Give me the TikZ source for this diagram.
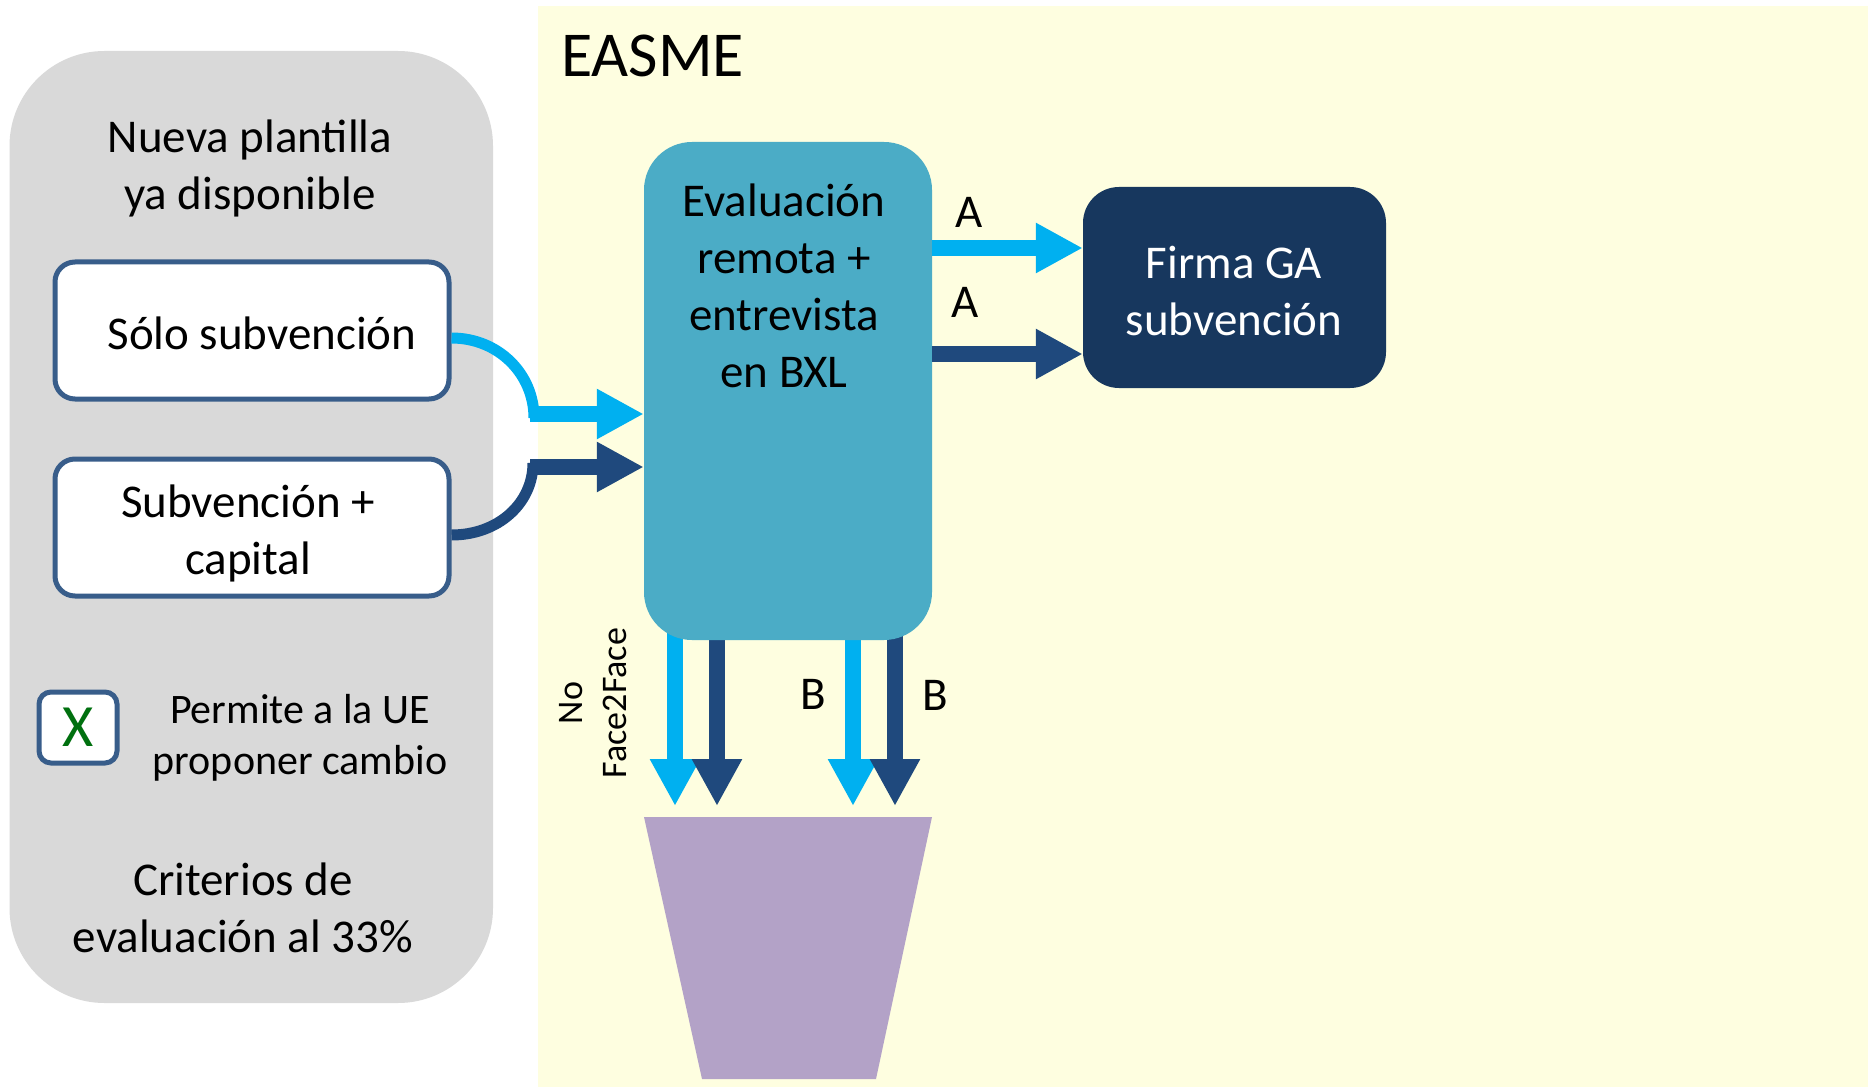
\documentclass[tikz,border=0pt]{standalone}
\usepackage{fontspec}
\setmainfont{Carlito}
\usetikzlibrary{arrows.meta}
\definecolor{grayp}{HTML}{D9D9D9}
\definecolor{yel}{HTML}{FEFEE0}
\definecolor{cyanbox}{HTML}{4BACC6}
\definecolor{navy}{HTML}{17375E}
\definecolor{lblue}{HTML}{00B0F0}
\definecolor{dblue}{HTML}{1F497D}
\definecolor{bord}{HTML}{385D8A}
\definecolor{lilac}{HTML}{B3A2C7}
\definecolor{xgreen}{HTML}{00700F}
\begin{document}
\begin{tikzpicture}[x=1pt,y=-1pt,
  txt/.style={font=\fontsize{47}{57}\selectfont, align=center, inner sep=0pt},
  smalltxt/.style={font=\fontsize{42}{51}\selectfont, align=center, inner sep=0pt},
  whitebox/.style={draw=bord, line width=5pt, fill=white, rounded corners=20pt, minimum width=394pt, minimum height=137pt, inner sep=0pt},
  arcL/.style={draw=lblue, line width=11pt},
  arcD/.style={draw=dblue, line width=11pt},
  arrL/.style={draw=lblue, line width=16pt, -{Triangle[length=47pt,width=47pt]}},
  arrD/.style={draw=dblue, line width=16pt, -{Triangle[length=47pt,width=47pt]}},
]
\useasboundingbox (0,0) rectangle (1868,1091);
% backgrounds
\fill[white] (0,0) rectangle (1868,1091);
\fill[yel] (538,6) rectangle (1868,1087);
\fill[grayp, rounded corners=95pt] (9.5,51) rectangle (493,1003);
\node[anchor=west, font=\fontsize{64}{77}\selectfont, inner sep=0pt] (easme) at (561,56) {EASME};

% left panel
\node[txt] (nueva) at (250,168.5) {Nueva plantilla\\ya disponible};
\node[whitebox] (sb) at (252,330.5) {};
\node[txt] (sbt) at (262,333) {Sólo subvención};
\node[whitebox, txt] (sc) at (252,527.5) {};
\node[txt] (sct) at (248,533) {Subvención +\\capital};
\node[draw=bord, line width=5pt, fill=white, rounded corners=12pt, minimum width=78pt, minimum height=71pt, inner sep=0pt] (xbox) at (78,727.5) {};
\node[font=\fontsize{60}{72}\selectfont, text=xgreen, inner sep=0pt] (xmark) at (xbox.center) {X};
\node[smalltxt] (perm) at (300,737.5) {Permite a la UE\\proponer cambio};
\node[txt] (crit) at (243,907.5) {Criterios de\\evaluación al 33\%};

% coordinates
\coordinate (j1) at (530,414);
\coordinate (j2) at (530,467);
\coordinate (bot) at (788,806);

% main boxes (positions)
\path (788,391) node[minimum width=288pt, minimum height=498pt, inner sep=0pt] (evalpos) {};

% arcs
\draw[arcL] ([yshift=-7.5pt]sb.east) .. controls +(47,0) and +(0,-44) .. (534,418);
\draw[arcD] ([yshift=-7.5pt]sc.east) .. controls +(47,0) and +(0,40) .. (533,463);

% down arrows (under box)
\draw[arrL] ([xshift=-113pt,yshift=20pt]evalpos.south) -- ([xshift=-113pt]bot);
\draw[arrD] ([xshift=-71pt,yshift=20pt]evalpos.south) -- ([xshift=-71pt]bot);
\draw[arrL] ([xshift=65pt,yshift=20pt]evalpos.south) -- ([xshift=65pt]bot);
\draw[arrD] ([xshift=107pt,yshift=20pt]evalpos.south) -- ([xshift=107pt]bot);

% evaluation box
\node[fill=cyanbox, rounded corners=48pt, minimum width=288pt, minimum height=498pt, inner sep=0pt] (eval) at (788,391) {};
\node[txt] (evalt) at (784,286) {Evaluación\\remota +\\entrevista\\en BXL};

% firma box
\node[fill=navy, rounded corners=36pt, minimum width=303pt, minimum height=201pt, inner sep=0pt] (firma) at (1234.5,287.5) {};
\node[txt, text=white] (firmat) at (1234,291.5) {Firma GA\\subvención};

% left arrows
\draw[arrL] (j1) -- ([yshift=-23pt]eval.west);
\draw[arrD] (j2) -- ([yshift=-76pt]eval.west);

% right arrows
\draw[arrL] ([yshift=143pt]eval.east) -- ([yshift=39.5pt]firma.west);
\draw[arrD] ([yshift=37pt]eval.east) -- ([yshift=-66.5pt]firma.west);

% trapezoid
\fill[lilac] (644,817) -- (932,817) -- (876,1079) -- (702,1079) -- cycle;

% labels
\node[txt] (la1) at (969,212) {A};
\node[txt] (la2) at (965,302) {A};
\node[txt] (lb1) at (813,694) {B};
\node[txt] (lb2) at (935,695) {B};
\node[font=\fontsize{36}{44}\selectfont, align=center, inner sep=0pt, rotate=90] (nof) at (593,703) {No\\Face2Face};
\end{tikzpicture}
\end{document}
